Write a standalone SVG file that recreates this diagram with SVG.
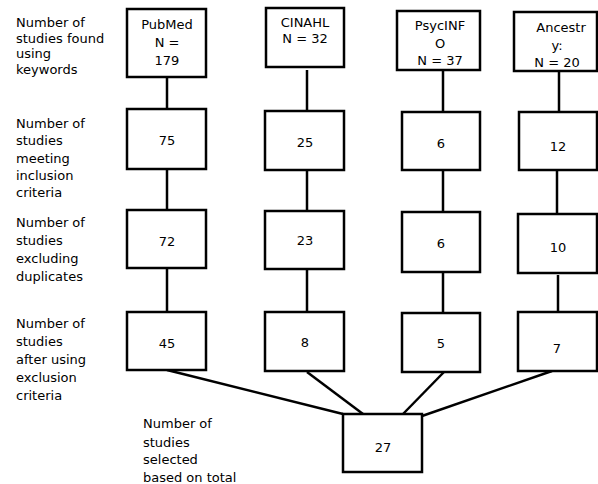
<svg xmlns="http://www.w3.org/2000/svg" width="598" height="484" viewBox="0 0 598 484">
<style>
text{font-family:"DejaVu Sans","Liberation Sans",sans-serif;font-size:13px;fill:#000}
.c{text-anchor:middle}
.b{fill:#fff;stroke:#000;stroke-width:2.5}
.l{stroke:#000;stroke-width:2.5;fill:none}
</style>
<rect width="598" height="484" fill="#fff"/>
<g id="row-labels">
<text x="16" y="27">Number of</text><text x="16" y="43">studies found</text><text x="16" y="58">using</text><text x="16" y="74">keywords</text>
<text x="16" y="128">Number of</text><text x="16" y="145">studies</text><text x="16" y="163">meeting</text><text x="16" y="180">inclusion</text><text x="16" y="197">criteria</text>
<text x="16" y="227">Number of</text><text x="16" y="245">studies</text><text x="16" y="263">excluding</text><text x="16" y="281">duplicates</text>
<text x="16" y="328">Number of</text><text x="16" y="346">studies</text><text x="16" y="364">after using</text><text x="16" y="382">exclusion</text><text x="16" y="400">criteria</text>
<text x="143" y="428">Number of</text><text x="143" y="447">studies</text><text x="143" y="464">selected</text><text x="143" y="482">based on total</text>
</g>
<g id="connectors">
<line class="l" x1="167" y1="77" x2="167" y2="109"/><line class="l" x1="167" y1="169" x2="167" y2="210"/><line class="l" x1="167" y1="268" x2="167" y2="312"/>
<line class="l" x1="307" y1="70" x2="307" y2="111"/><line class="l" x1="307" y1="170" x2="307" y2="211"/><line class="l" x1="307" y1="269" x2="307" y2="312"/>
<line class="l" x1="443" y1="70" x2="443" y2="112"/><line class="l" x1="443" y1="170" x2="443" y2="212"/><line class="l" x1="443" y1="272" x2="443" y2="313"/>
<line class="l" x1="559" y1="71" x2="559" y2="112"/><line class="l" x1="557" y1="170" x2="557" y2="214"/><line class="l" x1="558" y1="275" x2="558" y2="312"/>
<line class="l" x1="167" y1="370" x2="343" y2="414"/>
<line class="l" x1="307" y1="372" x2="363" y2="414"/>
<line class="l" x1="444" y1="372" x2="403" y2="414"/>
<line class="l" x1="552" y1="371" x2="422" y2="416"/>
</g>
<g id="pubmed"><rect class="b" x="127" y="9" width="79" height="68"/><text class="c" x="167" y="29">PubMed</text><text class="c" x="167" y="47">N =</text><text class="c" x="167" y="65">179</text></g>
<g id="cinahl"><rect class="b" x="266" y="8" width="78" height="59"/><text class="c" x="305" y="27">CINAHL</text><text class="c" x="305" y="43">N = 32</text></g>
<g id="psycinfo"><rect class="b" x="397" y="11" width="83" height="59"/><text class="c" x="440" y="30">PsycINF</text><text class="c" x="440" y="48">O</text><text class="c" x="440" y="65">N = 37</text></g>
<g id="ancestry"><rect class="b" x="514" y="12" width="83" height="59"/><text class="c" x="561" y="32">Ancestr</text><text class="c" x="557" y="50">y:</text><text class="c" x="557" y="67">N = 20</text></g>
<g id="pubmed-incl"><rect class="b" x="127" y="109" width="79" height="60"/><text class="c" x="167" y="145">75</text></g>
<g id="cinahl-incl"><rect class="b" x="265" y="111" width="79" height="59"/><text class="c" x="305" y="147">25</text></g>
<g id="psycinfo-incl"><rect class="b" x="402" y="112" width="78" height="58"/><text class="c" x="441" y="148">6</text></g>
<g id="ancestry-incl"><rect class="b" x="519" y="112" width="78" height="58"/><text class="c" x="558" y="151">12</text></g>
<g id="pubmed-dedup"><rect class="b" x="127" y="210" width="79" height="58"/><text class="c" x="167" y="246">72</text></g>
<g id="cinahl-dedup"><rect class="b" x="265" y="211" width="79" height="58"/><text class="c" x="305" y="245">23</text></g>
<g id="psycinfo-dedup"><rect class="b" x="402" y="212" width="78" height="60"/><text class="c" x="441" y="248">6</text></g>
<g id="ancestry-dedup"><rect class="b" x="518" y="214" width="79" height="59"/><text class="c" x="558" y="252">10</text></g>
<g id="pubmed-excl"><rect class="b" x="127" y="312" width="79" height="58"/><text class="c" x="167" y="348">45</text></g>
<g id="cinahl-excl"><rect class="b" x="265" y="312" width="79" height="59"/><text class="c" x="305" y="347">8</text></g>
<g id="psycinfo-excl"><rect class="b" x="402" y="313" width="78" height="59"/><text class="c" x="441" y="348">5</text></g>
<g id="ancestry-excl"><rect class="b" x="518" y="312" width="79" height="59"/><text class="c" x="557" y="353">7</text></g>
<g id="total"><rect class="b" x="343" y="414" width="79" height="58"/><text class="c" x="383" y="452">27</text></g>
</svg>
